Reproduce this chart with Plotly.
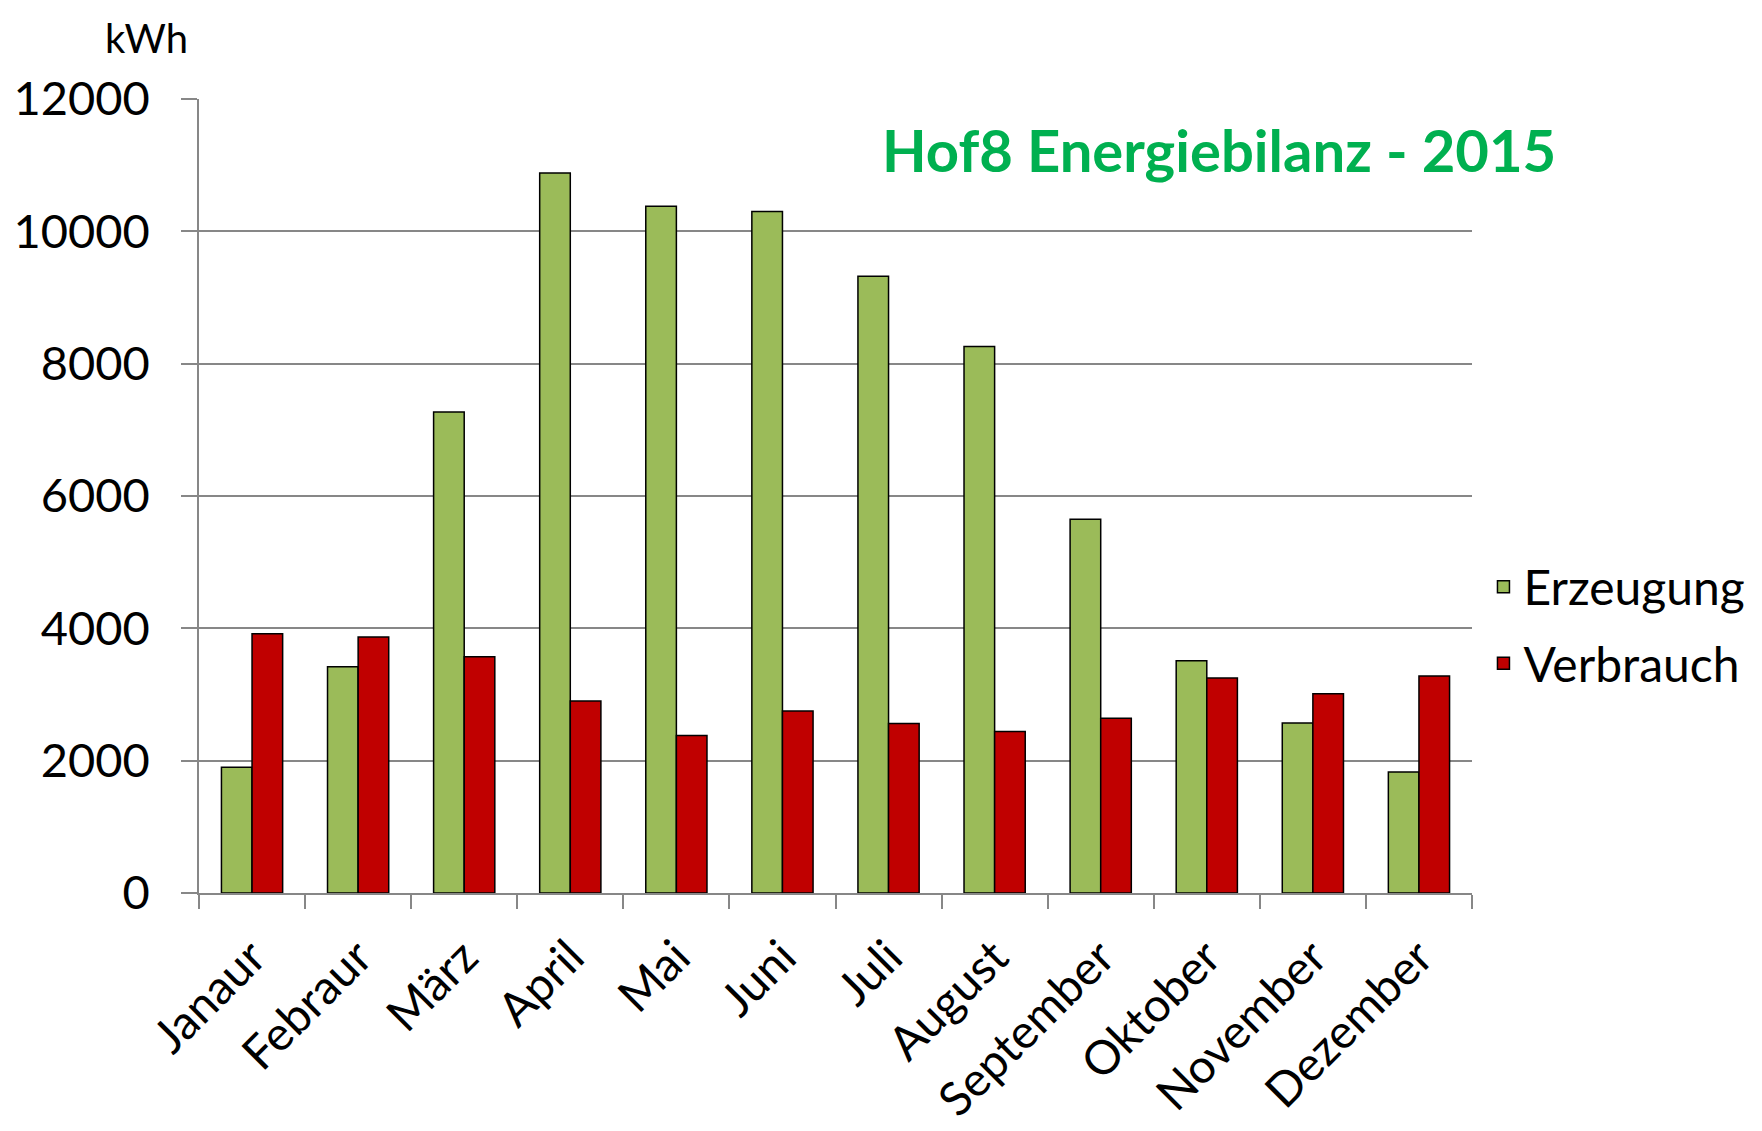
import plotly.graph_objects as go

months = ["Janaur", "Febraur", "März", "April", "Mai", "Juni", "Juli",
          "August", "September", "Oktober", "November", "Dezember"]
erzeugung = [1900, 3420, 7270, 10880, 10380, 10300, 9320, 8260, 5650, 3510, 2570, 1830]
verbrauch = [3920, 3870, 3570, 2900, 2380, 2750, 2560, 2440, 2640, 3250, 3010, 3280]
y_ticks = [0, 2000, 4000, 6000, 8000, 10000, 12000]

FONT = "Lato, Carlito, Calibri, 'Open Sans', sans-serif"
GRID = "#878787"

fig = go.Figure()
fig.add_trace(go.Bar(x=months, y=erzeugung, name="Erzeugung", legendgroup="a",
                     marker=dict(color="#9BBB59", line=dict(color="black", width=1.5))))
fig.add_trace(go.Bar(x=months, y=verbrauch, name="Verbrauch", legendgroup="b",
                     marker=dict(color="#C00000", line=dict(color="black", width=1.5))))

fig.update_layout(
    width=1762, height=1131,
    margin=dict(l=191, r=298, t=91, b=246, autoexpand=False),
    paper_bgcolor="white", plot_bgcolor="white",
    barmode="group", bargap=0.423, bargroupgap=0,
    font=dict(family=FONT, color="black"),
    showlegend=True,
    legend=dict(x=1.009, xanchor="left", y=0.3375, yanchor="middle",
                font=dict(size=48, family=FONT), tracegroupgap=11,
                bgcolor="rgba(0,0,0,0)"),
    xaxis=dict(type="category", showline=True, linecolor=GRID, linewidth=1.5,
               ticks="outside", tickson="boundaries", ticklen=14, tickcolor=GRID,
               tickwidth=1.5, tickangle=-45, tickfont=dict(size=47, family=FONT),
               showgrid=False, ticklabelstandoff=16),
    yaxis=dict(range=[0, 12000], tickvals=y_ticks, ticktext=[str(v) for v in y_ticks],
               showline=True, linecolor=GRID, linewidth=1.5,
               ticks="outside", ticklen=16, tickcolor=GRID, tickwidth=1.5,
               showgrid=True, gridcolor=GRID, gridwidth=1.5, zeroline=False,
               tickfont=dict(size=47, family=FONT), ticklabelstandoff=22),
    annotations=[
        dict(text="<b>Hof8 Energiebilanz - 2015</b>", xref="paper", yref="paper",
             x=0.801, y=0.937, xanchor="center", yanchor="middle", showarrow=False,
             font=dict(size=58, color="#00B050", family=FONT)),
        dict(text="kWh", xref="paper", yref="paper", x=-0.0416, y=1.11,
             xanchor="center", yanchor="top", showarrow=False,
             font=dict(size=40, color="black", family=FONT)),
    ],
)

fig.write_html("out.html")
